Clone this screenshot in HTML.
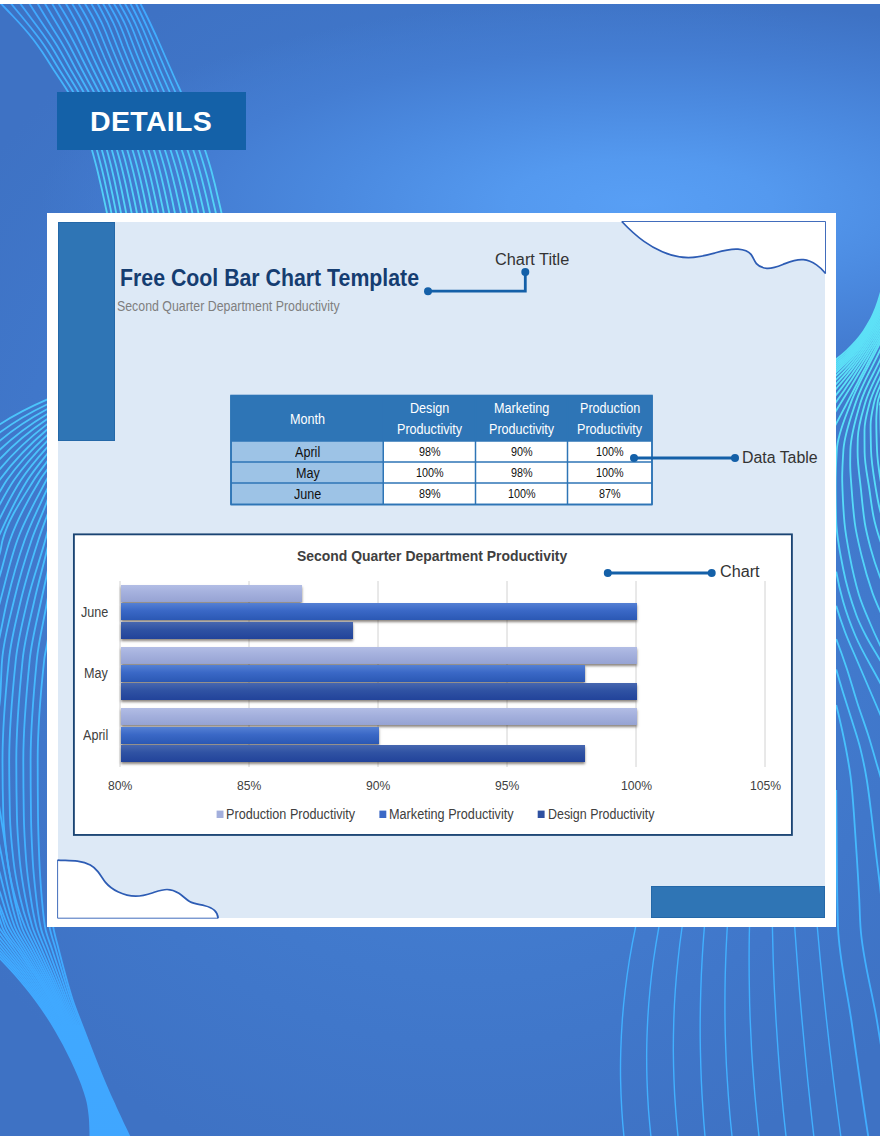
<!DOCTYPE html>
<html lang="en">
<head>
<meta charset="utf-8">
<title>Free Cool Bar Chart Template - Details</title>
<style>
html,body{margin:0;padding:0;}
body{width:880px;height:1140px;background:#fff;position:relative;overflow:hidden;font-family:"Liberation Sans",sans-serif;}
#bg{position:absolute;left:0;top:3.7px;width:880px;height:1132px;
  background:
    radial-gradient(ellipse 600px 205px at 640px 200px,#589ff5 0%,#5499ef 22%,#4b8ae0 50%,#447dd2 75%,rgba(63,116,199,0) 100%),
    radial-gradient(ellipse 620px 640px at 470px 560px,#4682d6 0%,#437dd0 45%,#4077ca 75%,#3e72c4 100%);
  background-color:#3e72c4;}
svg{position:absolute;left:0;top:0;overflow:hidden;}
#deco path{fill:none;}
.lt{stroke:url(#gTop);stroke-width:1.8;}
.ll{stroke:url(#gLeft);stroke-width:1.8;}
.lr{stroke:url(#gRight);stroke-width:1.8;}
.lb{stroke:#41b0ff;stroke-width:1.4;}
#details{position:absolute;left:57px;top:92px;width:189px;height:58px;background:#1461a8;}
#card{position:absolute;left:47px;top:213px;width:789px;height:714px;background:#fff;}
#panel{position:absolute;left:58px;top:221.6px;width:767.4px;height:696.6px;background:#dde9f6;}
#lbar{position:absolute;left:58px;top:221.6px;width:57.2px;height:219.2px;background:#2f75b5;box-shadow:inset 0 0 0 1px #2468a8;}
#rbar{position:absolute;left:651px;top:885.8px;width:174.4px;height:32.4px;background:#2f75b5;box-shadow:inset 0 0 0 1px #2468a8;}
.t{position:absolute;white-space:nowrap;transform-origin:0 0;line-height:1;display:block;}
.bar{position:absolute;left:120.5px;height:17px;box-shadow:0 1.5px 2.5px rgba(40,30,20,.55);}
.bp{background:linear-gradient(#b2bde5,#a4b0dd 45%,#96a3d3);}
.bm{background:linear-gradient(#5580d4,#3a68c6 45%,#2b58b4);}
.bd{background:linear-gradient(#4767b0,#2f52a3 45%,#22439a);}
</style>
</head>
<body>
<div id="bg"></div>
<svg id="deco" width="880" height="1140" viewBox="0 0 880 1140">
<defs>
<clipPath id="cp"><rect x="0" y="4" width="880" height="1132"/></clipPath>
<linearGradient id="gTop" gradientUnits="userSpaceOnUse" x1="0" y1="0" x2="0" y2="215">
<stop offset="0" stop-color="#3fa6ff"/><stop offset="0.45" stop-color="#45b8fc"/><stop offset="1" stop-color="#55d6f6"/></linearGradient>
<linearGradient id="gLeft" gradientUnits="userSpaceOnUse" x1="0" y1="390" x2="0" y2="1140">
<stop offset="0" stop-color="#4cc6fb"/><stop offset="0.5" stop-color="#43b6ff"/><stop offset="0.75" stop-color="#40aaff"/><stop offset="1" stop-color="#40a6ff"/></linearGradient>
<linearGradient id="gRight" gradientUnits="userSpaceOnUse" x1="0" y1="280" x2="0" y2="1140">
<stop offset="0" stop-color="#5fe2f6"/><stop offset="0.25" stop-color="#56dcf8"/><stop offset="0.5" stop-color="#48c4fc"/><stop offset="0.8" stop-color="#40b0ff"/><stop offset="1" stop-color="#40acff"/></linearGradient>
</defs>
<g clip-path="url(#cp)">
<g id="topband">
<path class="lt" d="M-4.4 -2.0 L1.3 4.0 L7.1 10.0 L12.8 16.0 L18.4 22.0 L23.8 28.0 L28.9 34.0 L33.7 40.0 L38.1 46.0 L42.3 52.0 L46.2 58.0 L50.0 64.0 L53.8 70.0 L57.8 76.0 L61.8 82.0 L65.7 88.0 L69.4 94.0 L72.8 100.0 L75.8 106.0 L78.7 112.0 L81.2 118.0 L83.6 124.0 L85.8 130.0 L87.8 136.0 L89.7 142.0 L91.4 148.0 L93.1 154.0 L94.7 160.0 L96.3 166.0 L97.8 172.0 L99.2 178.0 L100.6 184.0 L102.0 190.0 L103.3 196.0 L104.6 202.0 L105.9 208.0 L107.2 214.0 L108.5 220.0"/>
<path class="lt" d="M6.4 -2.0 L11.4 4.0 L16.3 10.0 L21.3 16.0 L26.2 22.0 L31.1 28.0 L35.8 34.0 L40.4 40.0 L44.6 46.0 L48.5 52.0 L52.2 58.0 L55.8 64.0 L59.5 70.0 L63.3 76.0 L67.1 82.0 L70.9 88.0 L74.4 94.0 L77.7 100.0 L80.7 106.0 L83.5 112.0 L86.1 118.0 L88.4 124.0 L90.6 130.0 L92.7 136.0 L94.6 142.0 L96.3 148.0 L98.0 154.0 L99.6 160.0 L101.1 166.0 L102.6 172.0 L104.0 178.0 L105.3 184.0 L106.6 190.0 L107.9 196.0 L109.2 202.0 L110.4 208.0 L111.6 214.0 L112.8 220.0"/>
<path class="lt" d="M16.1 -2.0 L20.5 4.0 L25.0 10.0 L29.4 16.0 L33.9 22.0 L38.4 28.0 L42.8 34.0 L47.0 40.0 L51.0 46.0 L54.7 52.0 L58.2 58.0 L61.7 64.0 L65.2 70.0 L68.8 76.0 L72.4 82.0 L76.1 88.0 L79.5 94.0 L82.7 100.0 L85.7 106.0 L88.4 112.0 L91.0 118.0 L93.3 124.0 L95.5 130.0 L97.6 136.0 L99.5 142.0 L101.3 148.0 L103.0 154.0 L104.6 160.0 L106.1 166.0 L107.5 172.0 L108.9 178.0 L110.2 184.0 L111.5 190.0 L112.8 196.0 L114.0 202.0 L115.2 208.0 L116.4 214.0 L117.6 220.0"/>
<path class="lt" d="M25.8 -2.0 L29.7 4.0 L33.5 10.0 L37.4 16.0 L41.4 22.0 L45.4 28.0 L49.5 34.0 L53.5 40.0 L57.3 46.0 L60.8 52.0 L64.2 58.0 L67.5 64.0 L70.8 70.0 L74.3 76.0 L77.8 82.0 L81.3 88.0 L84.6 94.0 L87.7 100.0 L90.6 106.0 L93.3 112.0 L95.9 118.0 L98.3 124.0 L100.5 130.0 L102.5 136.0 L104.5 142.0 L106.3 148.0 L108.0 154.0 L109.6 160.0 L111.1 166.0 L112.5 172.0 L113.9 178.0 L115.2 184.0 L116.4 190.0 L117.7 196.0 L118.8 202.0 L120.0 208.0 L121.2 214.0 L122.4 220.0"/>
<path class="lt" d="M34.4 -2.0 L37.9 4.0 L41.4 10.0 L45.0 16.0 L48.7 22.0 L52.4 28.0 L56.2 34.0 L60.0 40.0 L63.5 46.0 L66.9 52.0 L70.1 58.0 L73.2 64.0 L76.4 70.0 L79.8 76.0 L83.1 82.0 L86.5 88.0 L89.7 94.0 L92.8 100.0 L95.6 106.0 L98.3 112.0 L100.8 118.0 L103.2 124.0 L105.4 130.0 L107.5 136.0 L109.5 142.0 L111.3 148.0 L113.0 154.0 L114.6 160.0 L116.2 166.0 L117.6 172.0 L119.0 178.0 L120.3 184.0 L121.6 190.0 L122.8 196.0 L124.0 202.0 L125.2 208.0 L126.4 214.0 L127.6 220.0"/>
<path class="lt" d="M41.7 -2.0 L45.2 4.0 L48.7 10.0 L52.2 16.0 L55.8 22.0 L59.4 28.0 L62.9 34.0 L66.4 40.0 L69.7 46.0 L72.8 52.0 L75.9 58.0 L79.0 64.0 L82.1 70.0 L85.3 76.0 L88.5 82.0 L91.8 88.0 L94.9 94.0 L97.8 100.0 L100.7 106.0 L103.3 112.0 L105.8 118.0 L108.2 124.0 L110.4 130.0 L112.5 136.0 L114.5 142.0 L116.4 148.0 L118.1 154.0 L119.8 160.0 L121.3 166.0 L122.8 172.0 L124.2 178.0 L125.6 184.0 L126.9 190.0 L128.1 196.0 L129.4 202.0 L130.6 208.0 L131.8 214.0 L133.0 220.0"/>
<path class="lt" d="M48.9 -2.0 L52.4 4.0 L55.9 10.0 L59.3 16.0 L62.8 22.0 L66.1 28.0 L69.5 34.0 L72.7 40.0 L75.8 46.0 L78.8 52.0 L81.7 58.0 L84.7 64.0 L87.7 70.0 L90.8 76.0 L93.9 82.0 L97.0 88.0 L100.1 94.0 L103.0 100.0 L105.7 106.0 L108.4 112.0 L110.9 118.0 L113.2 124.0 L115.5 130.0 L117.6 136.0 L119.6 142.0 L121.5 148.0 L123.3 154.0 L125.0 160.0 L126.5 166.0 L128.0 172.0 L129.5 178.0 L130.8 184.0 L132.1 190.0 L133.4 196.0 L134.7 202.0 L135.9 208.0 L137.1 214.0 L138.3 220.0"/>
<path class="lt" d="M55.1 -2.0 L58.8 4.0 L62.5 10.0 L66.1 16.0 L69.6 22.0 L72.9 28.0 L76.0 34.0 L78.9 40.0 L81.8 46.0 L84.7 52.0 L87.5 58.0 L90.4 64.0 L93.3 70.0 L96.3 76.0 L99.3 82.0 L102.3 88.0 L105.3 94.0 L108.1 100.0 L110.8 106.0 L113.5 112.0 L115.9 118.0 L118.3 124.0 L120.6 130.0 L122.7 136.0 L124.8 142.0 L126.7 148.0 L128.5 154.0 L130.2 160.0 L131.8 166.0 L133.3 172.0 L134.7 178.0 L136.1 184.0 L137.5 190.0 L138.8 196.0 L140.0 202.0 L141.3 208.0 L142.5 214.0 L143.8 220.0"/>
<path class="lt" d="M62.7 -2.0 L66.1 4.0 L69.6 10.0 L72.9 16.0 L76.2 22.0 L79.3 28.0 L82.2 34.0 L85.1 40.0 L87.8 46.0 L90.6 52.0 L93.3 58.0 L96.1 64.0 L98.9 70.0 L101.8 76.0 L104.7 82.0 L107.7 88.0 L110.5 94.0 L113.3 100.0 L116.0 106.0 L118.6 112.0 L121.1 118.0 L123.5 124.0 L125.8 130.0 L127.9 136.0 L130.0 142.0 L131.9 148.0 L133.7 154.0 L135.4 160.0 L137.0 166.0 L138.5 172.0 L140.0 178.0 L141.4 184.0 L142.7 190.0 L144.0 196.0 L145.2 202.0 L146.5 208.0 L147.7 214.0 L148.9 220.0"/>
<path class="lt" d="M68.9 -2.0 L72.4 4.0 L76.0 10.0 L79.4 16.0 L82.7 22.0 L85.7 28.0 L88.5 34.0 L91.1 40.0 L93.7 46.0 L96.4 52.0 L99.0 58.0 L101.7 64.0 L104.5 70.0 L107.3 76.0 L110.2 82.0 L113.0 88.0 L115.8 94.0 L118.6 100.0 L121.2 106.0 L123.8 112.0 L126.3 118.0 L128.7 124.0 L131.0 130.0 L133.1 136.0 L135.2 142.0 L137.2 148.0 L139.0 154.0 L140.7 160.0 L142.3 166.0 L143.9 172.0 L145.3 178.0 L146.7 184.0 L148.1 190.0 L149.4 196.0 L150.6 202.0 L151.9 208.0 L153.1 214.0 L154.4 220.0"/>
<path class="lt" d="M75.3 -2.0 L78.8 4.0 L82.4 10.0 L85.8 16.0 L89.0 22.0 L91.9 28.0 L94.6 34.0 L97.1 40.0 L99.6 46.0 L102.2 52.0 L104.7 58.0 L107.4 64.0 L110.1 70.0 L112.8 76.0 L115.6 82.0 L118.4 88.0 L121.2 94.0 L123.9 100.0 L126.5 106.0 L129.0 112.0 L131.5 118.0 L133.9 124.0 L136.2 130.0 L138.4 136.0 L140.5 142.0 L142.5 148.0 L144.3 154.0 L146.1 160.0 L147.7 166.0 L149.2 172.0 L150.7 178.0 L152.1 184.0 L153.4 190.0 L154.7 196.0 L156.0 202.0 L157.3 208.0 L158.5 214.0 L159.8 220.0"/>
<path class="lt" d="M81.8 -2.0 L85.2 4.0 L88.7 10.0 L92.1 16.0 L95.2 22.0 L98.0 28.0 L100.6 34.0 L103.0 40.0 L105.4 46.0 L107.9 52.0 L110.4 58.0 L113.0 64.0 L115.6 70.0 L118.3 76.0 L121.1 82.0 L123.8 88.0 L126.5 94.0 L129.2 100.0 L131.8 106.0 L134.3 112.0 L136.8 118.0 L139.2 124.0 L141.5 130.0 L143.8 136.0 L145.9 142.0 L147.9 148.0 L149.7 154.0 L151.5 160.0 L153.1 166.0 L154.7 172.0 L156.1 178.0 L157.5 184.0 L158.9 190.0 L160.1 196.0 L161.4 202.0 L162.7 208.0 L163.9 214.0 L165.2 220.0"/>
<path class="lt" d="M88.2 -2.0 L91.5 4.0 L94.9 10.0 L98.2 16.0 L101.3 22.0 L104.0 28.0 L106.5 34.0 L108.8 40.0 L111.2 46.0 L113.6 52.0 L116.1 58.0 L118.6 64.0 L121.2 70.0 L123.9 76.0 L126.5 82.0 L129.2 88.0 L131.9 94.0 L134.5 100.0 L137.1 106.0 L139.7 112.0 L142.2 118.0 L144.6 124.0 L146.9 130.0 L149.1 136.0 L151.3 142.0 L153.3 148.0 L155.2 154.0 L156.9 160.0 L158.6 166.0 L160.1 172.0 L161.6 178.0 L163.0 184.0 L164.4 190.0 L165.7 196.0 L167.0 202.0 L168.2 208.0 L169.5 214.0 L170.8 220.0"/>
<path class="lt" d="M94.8 -2.0 L97.9 4.0 L101.1 10.0 L104.2 16.0 L107.2 22.0 L109.8 28.0 L112.2 34.0 L114.6 40.0 L116.9 46.0 L119.3 52.0 L121.7 58.0 L124.2 64.0 L126.8 70.0 L129.4 76.0 L132.0 82.0 L134.7 88.0 L137.3 94.0 L139.9 100.0 L142.5 106.0 L145.1 112.0 L147.6 118.0 L150.0 124.0 L152.3 130.0 L154.6 136.0 L156.7 142.0 L158.7 148.0 L160.6 154.0 L162.4 160.0 L164.1 166.0 L165.7 172.0 L167.2 178.0 L168.6 184.0 L170.0 190.0 L171.3 196.0 L172.6 202.0 L173.8 208.0 L175.1 214.0 L176.4 220.0"/>
<path class="lt" d="M100.0 -2.0 L103.3 4.0 L106.7 10.0 L109.9 16.0 L112.9 22.0 L115.6 28.0 L118.0 34.0 L120.3 40.0 L122.5 46.0 L124.9 52.0 L127.3 58.0 L129.8 64.0 L132.3 70.0 L134.9 76.0 L137.5 82.0 L140.2 88.0 L142.8 94.0 L145.4 100.0 L148.0 106.0 L150.5 112.0 L153.0 118.0 L155.4 124.0 L157.8 130.0 L160.0 136.0 L162.2 142.0 L164.2 148.0 L166.2 154.0 L168.0 160.0 L169.7 166.0 L171.3 172.0 L172.9 178.0 L174.3 184.0 L175.8 190.0 L177.1 196.0 L178.5 202.0 L179.8 208.0 L181.1 214.0 L182.4 220.0"/>
<path class="lt" d="M105.4 -2.0 L108.8 4.0 L112.2 10.0 L115.5 16.0 L118.5 22.0 L121.2 28.0 L123.6 34.0 L125.9 40.0 L128.1 46.0 L130.5 52.0 L132.9 58.0 L135.4 64.0 L137.9 70.0 L140.5 76.0 L143.1 82.0 L145.7 88.0 L148.3 94.0 L150.9 100.0 L153.4 106.0 L156.0 112.0 L158.5 118.0 L160.9 124.0 L163.2 130.0 L165.5 136.0 L167.7 142.0 L169.8 148.0 L171.8 154.0 L173.6 160.0 L175.4 166.0 L177.1 172.0 L178.7 178.0 L180.2 184.0 L181.7 190.0 L183.1 196.0 L184.5 202.0 L185.9 208.0 L187.2 214.0 L188.6 220.0"/>
<path class="lt" d="M110.8 -2.0 L114.2 4.0 L117.7 10.0 L121.0 16.0 L124.0 22.0 L126.7 28.0 L129.1 34.0 L131.4 40.0 L133.7 46.0 L136.0 52.0 L138.4 58.0 L140.9 64.0 L143.4 70.0 L146.0 76.0 L148.6 82.0 L151.2 88.0 L153.8 94.0 L156.4 100.0 L159.0 106.0 L161.5 112.0 L164.0 118.0 L166.5 124.0 L168.8 130.0 L171.1 136.0 L173.3 142.0 L175.4 148.0 L177.4 154.0 L179.3 160.0 L181.0 166.0 L182.6 172.0 L184.2 178.0 L185.7 184.0 L187.2 190.0 L188.6 196.0 L189.9 202.0 L191.3 208.0 L192.6 214.0 L194.0 220.0"/>
<path class="lt" d="M116.4 -2.0 L119.7 4.0 L123.1 10.0 L126.4 16.0 L129.4 22.0 L132.1 28.0 L134.5 34.0 L136.8 40.0 L139.2 46.0 L141.5 52.0 L144.0 58.0 L146.5 64.0 L149.0 70.0 L151.5 76.0 L154.1 82.0 L156.7 88.0 L159.3 94.0 L161.9 100.0 L164.5 106.0 L167.1 112.0 L169.6 118.0 L172.1 124.0 L174.5 130.0 L176.8 136.0 L179.0 142.0 L181.1 148.0 L183.1 154.0 L185.0 160.0 L186.7 166.0 L188.4 172.0 L190.0 178.0 L191.6 184.0 L193.0 190.0 L194.5 196.0 L195.9 202.0 L197.3 208.0 L198.6 214.0 L200.0 220.0"/>
<path class="lt" d="M122.0 -2.0 L125.2 4.0 L128.5 10.0 L131.7 16.0 L134.6 22.0 L137.3 28.0 L139.8 34.0 L142.2 40.0 L144.6 46.0 L147.0 52.0 L149.5 58.0 L152.0 64.0 L154.5 70.0 L157.1 76.0 L159.7 82.0 L162.3 88.0 L164.9 94.0 L167.5 100.0 L170.2 106.0 L172.7 112.0 L175.3 118.0 L177.7 124.0 L180.1 130.0 L182.5 136.0 L184.7 142.0 L186.8 148.0 L188.8 154.0 L190.7 160.0 L192.5 166.0 L194.2 172.0 L195.8 178.0 L197.3 184.0 L198.8 190.0 L200.2 196.0 L201.6 202.0 L203.0 208.0 L204.3 214.0 L205.7 220.0"/>
<path class="lt" d="M127.5 -2.0 L130.6 4.0 L133.8 10.0 L136.8 16.0 L139.7 22.0 L142.5 28.0 L145.0 34.0 L147.5 40.0 L150.0 46.0 L152.4 52.0 L154.9 58.0 L157.5 64.0 L160.0 70.0 L162.6 76.0 L165.3 82.0 L167.9 88.0 L170.6 94.0 L173.2 100.0 L175.8 106.0 L178.4 112.0 L181.0 118.0 L183.5 124.0 L185.9 130.0 L188.2 136.0 L190.5 142.0 L192.6 148.0 L194.6 154.0 L196.5 160.0 L198.3 166.0 L200.0 172.0 L201.6 178.0 L203.1 184.0 L204.6 190.0 L206.1 196.0 L207.5 202.0 L208.8 208.0 L210.2 214.0 L211.6 220.0"/>
<path class="lt" d="M133.3 -2.0 L136.2 4.0 L139.0 10.0 L141.9 16.0 L144.7 22.0 L147.5 28.0 L150.1 34.0 L152.7 40.0 L155.3 46.0 L157.8 52.0 L160.4 58.0 L163.0 64.0 L165.5 70.0 L168.2 76.0 L170.8 82.0 L173.5 88.0 L176.2 94.0 L178.9 100.0 L181.5 106.0 L184.2 112.0 L186.7 118.0 L189.2 124.0 L191.7 130.0 L194.0 136.0 L196.3 142.0 L198.4 148.0 L200.4 154.0 L202.3 160.0 L204.1 166.0 L205.8 172.0 L207.5 178.0 L209.0 184.0 L210.5 190.0 L211.9 196.0 L213.3 202.0 L214.7 208.0 L216.1 214.0 L217.5 220.0"/>
<path class="lt" d="M137.6 -2.0 L140.6 4.0 L143.7 10.0 L146.7 16.0 L149.6 22.0 L152.4 28.0 L155.2 34.0 L157.9 40.0 L160.6 46.0 L163.2 52.0 L165.8 58.0 L168.4 64.0 L171.1 70.0 L173.7 76.0 L176.4 82.0 L179.2 88.0 L181.9 94.0 L184.6 100.0 L187.3 106.0 L190.0 112.0 L192.6 118.0 L195.1 124.0 L197.6 130.0 L199.9 136.0 L202.2 142.0 L204.3 148.0 L206.3 154.0 L208.2 160.0 L210.0 166.0 L211.7 172.0 L213.2 178.0 L214.8 184.0 L216.2 190.0 L217.6 196.0 L219.0 202.0 L220.4 208.0 L221.7 214.0 L223.1 220.0"/>
</g>
<g id="leftfam">
<path d="M52.6 1025.0 L56.1 1031.0 L59.5 1037.0 L62.9 1043.0 L66.1 1049.0 L69.1 1055.0 L71.9 1061.0 L74.7 1067.0 L77.3 1073.0 L79.8 1079.0 L82.2 1085.0 L84.4 1091.0 L86.2 1097.0 L87.7 1103.0 L88.7 1109.0 L89.5 1115.0 L90.0 1121.0 L90.2 1127.0 L90.4 1133.0 L90.4 1139.0 L90.5 1145.0 L90.5 1151.0 L135.9 1151.0 L133.3 1145.0 L130.6 1139.0 L127.8 1133.0 L125.0 1127.0 L122.1 1121.0 L119.2 1115.0 L116.5 1109.0 L113.8 1103.0 L111.1 1097.0 L108.4 1091.0 L105.8 1085.0 L103.1 1079.0 L100.6 1073.0 L98.2 1067.0 L96.0 1061.0 L93.8 1055.0 L91.6 1049.0 L89.4 1043.0 L87.0 1037.0 L84.4 1031.0 L81.9 1025.0 Z" style="fill:url(#gLeft);stroke:none"/>
<path class="ll" d="M73.2 390.0 C64.2 392.8 55.4 396.0 46.9 399.7 C30.8 406.6 14.7 414.8 0.0 424.3 C-4.4 427.2 -11.4 430.2 -12.7 434.0 C-32.0 487.8 -34.1 585.9 -38.5 662.1 C-43.2 742.9 -48.0 836.8 -48.0 905.0 C-48.0 912.9 -36.2 919.7 -30.0 926.8 C-23.0 934.8 -15.4 942.2 -8.1 950.0 C-0.3 958.3 7.8 966.4 15.3 975.0 C22.3 983.1 29.3 991.4 35.6 1000.0 C42.7 1009.6 49.5 1019.7 55.5 1030.0 C61.3 1039.7 66.6 1049.8 71.5 1060.0 C75.3 1068.2 79.2 1076.5 82.2 1085.0 C84.5 1091.5 87.0 1098.2 88.1 1105.0 C89.0 1110.6 89.8 1116.3 90.0 1122.0 C90.2 1126.7 90.4 1131.3 90.4 1136.0 C90.5 1140.7 90.5 1145.3 90.5 1150.0"/>
<path class="ll" d="M72.9 394.0 C64.0 397.1 55.3 400.5 46.9 404.5 C30.6 412.2 14.5 421.7 0.0 432.4 C-4.2 435.5 -10.8 438.9 -12.1 442.9 C-31.2 498.6 -35.0 591.5 -38.1 666.2 C-41.3 745.5 -43.8 837.3 -43.8 905.0 C-43.8 912.9 -32.4 919.7 -26.4 926.8 C-19.6 934.8 -12.3 942.2 -5.2 950.0 C2.4 958.3 10.2 966.4 17.4 975.0 C24.3 983.1 31.0 991.4 37.2 1000.0 C44.2 1009.7 50.8 1019.7 56.8 1030.0 C62.4 1039.7 67.7 1049.8 72.5 1060.0 C76.4 1068.2 80.2 1076.5 83.2 1085.0 C85.5 1091.5 88.0 1098.2 89.2 1105.0 C90.2 1110.6 91.0 1116.3 91.4 1122.0 C91.7 1126.7 91.9 1131.3 92.1 1136.0 C92.2 1140.7 92.4 1145.3 92.4 1150.0"/>
<path class="ll" d="M72.4 397.7 C63.7 401.1 55.1 404.9 46.9 409.3 C30.5 418.1 14.3 428.7 0.0 440.6 C-4.1 444.0 -10.1 447.6 -11.5 451.7 C-30.3 508.8 -36.3 597.2 -37.6 670.3 C-38.9 748.3 -39.7 837.9 -39.7 905.0 C-39.7 912.9 -28.7 919.7 -22.8 926.8 C-16.3 934.8 -9.2 942.3 -2.3 950.0 C5.0 958.3 12.6 966.4 19.6 975.0 C26.2 983.1 32.8 991.4 38.8 1000.0 C45.6 1009.7 52.1 1019.7 58.0 1030.0 C63.6 1039.7 68.8 1049.8 73.5 1060.0 C77.4 1068.2 81.2 1076.5 84.2 1085.0 C86.6 1091.5 89.0 1098.2 90.4 1105.0 C91.5 1110.6 92.3 1116.3 92.8 1122.0 C93.2 1126.6 93.5 1131.3 93.7 1136.0 C94.0 1140.7 94.2 1145.3 94.4 1150.0"/>
<path class="ll" d="M71.8 401.4 C63.2 405.2 54.8 409.4 46.9 414.2 C30.3 424.2 14.1 436.3 0.0 449.6 C-3.8 453.2 -9.4 457.1 -10.8 461.4 C-29.3 519.6 -37.0 603.4 -37.0 674.8 C-37.0 751.2 -36.9 838.6 -35.5 905.0 C-35.3 912.8 -24.9 919.7 -19.3 926.8 C-12.9 934.7 -6.0 942.3 0.5 950.0 C7.6 958.3 14.9 966.5 21.7 975.0 C28.2 983.1 34.5 991.4 40.4 1000.0 C47.1 1009.7 53.4 1019.8 59.2 1030.0 C64.7 1039.8 69.9 1049.8 74.6 1060.0 C78.4 1068.2 82.2 1076.5 85.2 1085.0 C87.6 1091.5 90.1 1098.2 91.5 1105.0 C92.7 1110.6 93.6 1116.3 94.2 1122.0 C94.7 1126.6 95.1 1131.3 95.4 1136.0 C95.8 1140.7 96.1 1145.3 96.3 1150.0"/>
<path class="ll" d="M71.2 405.3 C62.8 409.5 54.5 414.0 46.9 419.2 C30.1 430.5 13.9 444.1 0.0 458.8 C-3.6 462.6 -8.7 466.7 -10.1 471.2 C-28.2 530.0 -36.5 609.7 -36.5 679.4 C-36.5 754.3 -35.7 839.4 -31.3 905.0 C-30.8 912.8 -21.1 919.7 -15.7 926.8 C-9.6 934.7 -2.9 942.3 3.4 950.0 C10.3 958.3 17.3 966.5 23.9 975.0 C30.2 983.1 36.3 991.5 42.0 1000.0 C48.5 1009.7 54.7 1019.8 60.4 1030.0 C65.9 1039.8 70.9 1049.8 75.6 1060.0 C79.4 1068.2 83.2 1076.5 86.3 1085.0 C88.6 1091.6 91.1 1098.2 92.7 1105.0 C93.9 1110.6 94.9 1116.3 95.6 1122.0 C96.2 1126.6 96.7 1131.3 97.1 1136.0 C97.5 1140.7 97.9 1145.3 98.2 1150.0"/>
<path class="ll" d="M70.4 409.2 C62.3 413.9 54.2 418.8 46.9 424.4 C30.0 437.3 13.7 452.6 0.0 468.9 C-3.4 472.9 -8.0 477.2 -9.4 481.8 C-27.1 540.8 -35.9 616.7 -35.9 684.5 C-35.9 757.7 -34.2 840.3 -27.2 905.0 C-26.3 912.8 -17.4 919.7 -12.1 926.8 C-6.3 934.7 0.2 942.3 6.3 950.0 C12.9 958.3 19.7 966.5 26.0 975.0 C32.1 983.2 38.1 991.5 43.6 1000.0 C50.0 1009.8 56.1 1019.8 61.7 1030.0 C67.0 1039.8 72.0 1049.9 76.7 1060.0 C80.4 1068.2 84.1 1076.5 87.3 1085.0 C89.7 1091.6 92.2 1098.2 93.8 1105.0 C95.1 1110.6 96.2 1116.3 97.0 1122.0 C97.7 1126.6 98.2 1131.3 98.8 1136.0 C99.3 1140.7 99.8 1145.3 100.2 1150.0"/>
<path class="ll" d="M69.6 413.5 C61.7 418.5 53.9 423.8 46.9 429.8 C29.8 444.3 13.5 461.4 0.0 479.4 C-3.2 483.6 -7.4 488.1 -8.7 492.8 C-25.9 551.5 -35.2 623.8 -35.2 689.7 C-35.2 761.2 -32.4 841.2 -23.0 905.0 C-21.9 912.7 -13.6 919.7 -8.5 926.8 C-2.9 934.7 3.3 942.3 9.2 950.0 C15.5 958.3 22.1 966.5 28.2 975.0 C34.1 983.2 39.8 991.5 45.2 1000.0 C51.4 1009.8 57.4 1019.8 62.9 1030.0 C68.2 1039.8 73.1 1049.9 77.7 1060.0 C81.4 1068.2 85.1 1076.5 88.3 1085.0 C90.7 1091.6 93.2 1098.2 94.9 1105.0 C96.3 1110.6 97.4 1116.3 98.4 1122.0 C99.2 1126.6 99.8 1131.3 100.4 1136.0 C101.0 1140.7 101.6 1145.3 102.1 1150.0"/>
<path class="ll" d="M68.7 417.8 C61.1 423.3 53.7 429.1 46.9 435.4 C32.4 448.9 18.3 463.9 6.9 480.0 C4.4 483.6 2.3 487.5 0.0 491.3 C-2.7 495.9 -6.6 500.3 -8.0 505.1 C-24.5 563.3 -34.5 631.9 -34.5 695.6 C-34.5 765.2 -30.3 842.4 -18.9 905.0 C-17.5 912.7 -9.8 919.7 -5.0 926.8 C0.4 934.7 6.4 942.3 12.1 950.0 C18.2 958.3 24.5 966.5 30.4 975.0 C36.0 983.2 41.6 991.5 46.8 1000.0 C52.8 1009.8 58.7 1019.8 64.1 1030.0 C69.3 1039.8 74.2 1049.9 78.7 1060.0 C82.5 1068.2 86.1 1076.5 89.3 1085.0 C91.8 1091.6 94.3 1098.2 96.1 1105.0 C97.6 1110.6 98.7 1116.3 99.8 1122.0 C100.7 1126.6 101.4 1131.3 102.1 1136.0 C102.8 1140.7 103.4 1145.3 104.0 1150.0"/>
<path class="ll" d="M67.6 422.5 C60.4 428.5 53.4 434.7 46.9 441.3 C35.1 453.3 23.6 466.2 14.1 480.0 C8.9 487.5 4.4 495.8 0.0 503.9 C-2.6 508.6 -6.0 513.2 -7.3 518.1 C-23.1 575.2 -33.8 640.5 -33.8 702.0 C-33.8 769.4 -27.9 843.7 -14.7 905.0 C-13.1 912.7 -6.0 919.7 -1.4 926.8 C3.8 934.7 9.5 942.3 14.9 950.0 C20.8 958.3 26.9 966.5 32.5 975.0 C38.0 983.2 43.3 991.5 48.4 1000.0 C54.3 1009.8 60.0 1019.8 65.3 1030.0 C70.4 1039.8 75.2 1049.9 79.8 1060.0 C83.5 1068.2 87.1 1076.6 90.3 1085.0 C92.8 1091.6 95.3 1098.2 97.2 1105.0 C98.8 1110.6 100.0 1116.3 101.2 1122.0 C102.2 1126.6 103.0 1131.3 103.8 1136.0 C104.6 1140.7 105.3 1145.3 106.0 1150.0"/>
<path class="ll" d="M66.5 427.6 C59.7 434.0 53.1 440.7 46.9 447.6 C37.7 457.9 28.5 468.6 21.0 480.0 C13.1 492.0 6.4 505.1 0.0 518.1 C-2.4 522.9 -5.3 527.6 -6.7 532.6 C-21.6 588.3 -32.9 650.3 -32.9 709.0 C-32.9 781.7 -19.1 862.0 2.2 926.8 C4.9 935.0 12.6 942.3 17.8 950.0 C23.4 958.3 29.2 966.5 34.7 975.0 C39.9 983.2 45.1 991.6 50.0 1000.0 C55.7 1009.9 61.4 1019.8 66.6 1030.0 C71.6 1039.8 76.3 1049.9 80.8 1060.0 C84.5 1068.3 88.1 1076.6 91.3 1085.0 C93.8 1091.6 96.4 1098.2 98.4 1105.0 C100.0 1110.6 101.3 1116.3 102.6 1122.0 C103.6 1126.6 104.5 1131.3 105.4 1136.0 C106.3 1140.7 107.1 1145.3 107.9 1150.0"/>
<path class="ll" d="M65.3 433.3 C58.9 440.1 52.8 447.2 46.9 454.4 C40.2 462.7 33.2 471.1 27.6 480.0 C17.0 496.8 8.2 515.4 0.0 533.7 C-2.2 538.6 -4.7 543.5 -6.0 548.5 C-20.0 602.3 -32.0 660.8 -32.0 716.9 C-32.0 787.0 -16.4 863.7 5.2 926.8 C8.0 935.0 15.2 942.3 20.2 950.0 C25.6 958.3 31.2 966.6 36.5 975.0 C41.6 983.2 46.5 991.6 51.3 1000.0 C56.9 1009.9 62.5 1019.9 67.6 1030.0 C72.5 1039.9 77.2 1049.9 81.7 1060.0 C85.3 1068.3 88.9 1076.6 92.2 1085.0 C94.7 1091.6 97.3 1098.2 99.3 1105.0 C101.0 1110.6 102.4 1116.3 103.8 1122.0 C104.9 1126.6 105.9 1131.3 106.8 1136.0 C107.8 1140.7 108.7 1145.3 109.5 1150.0"/>
<path class="ll" d="M63.8 439.5 C58.1 446.8 52.4 454.3 46.9 461.8 C42.5 467.8 37.8 473.7 33.9 480.0 C22.1 499.0 8.4 518.8 2.6 540.0 C1.5 544.0 1.1 548.5 0.0 552.6 C-1.3 557.7 -4.1 562.6 -5.4 567.7 C-18.4 619.9 -31.2 675.4 -31.2 729.3 C-31.2 783.3 -20.4 840.2 -6.6 891.4 C-5.3 896.4 -2.1 901.1 0.0 906.0 C2.9 912.9 5.1 920.2 8.3 926.8 C12.2 934.9 17.9 942.3 22.7 950.0 C27.9 958.3 33.3 966.6 38.3 975.0 C43.3 983.2 48.0 991.6 52.7 1000.0 C58.2 1009.9 63.6 1019.9 68.6 1030.0 C73.5 1039.9 78.1 1049.9 82.6 1060.0 C86.2 1068.3 89.8 1076.6 93.0 1085.0 C95.6 1091.6 98.2 1098.2 100.3 1105.0 C102.1 1110.6 103.5 1116.3 105.0 1122.0 C106.2 1126.6 107.2 1131.3 108.3 1136.0 C109.3 1140.7 110.3 1145.3 111.2 1150.0"/>
<path class="ll" d="M62.3 446.6 C57.3 454.5 52.2 462.3 46.9 470.0 C44.6 473.4 42.0 476.6 39.9 480.0 C28.4 498.9 17.4 519.2 10.0 540.0 C6.0 551.3 3.5 563.4 0.0 575.0 C-1.5 580.1 -3.5 585.1 -4.7 590.3 C-15.9 637.2 -29.1 685.9 -29.1 733.8 C-29.1 781.7 -16.9 830.9 -5.3 877.5 C-4.0 882.6 -1.7 887.6 0.0 892.6 C3.9 904.0 6.7 916.0 11.5 926.8 C15.1 934.9 20.7 942.3 25.3 950.0 C30.3 958.3 35.4 966.6 40.3 975.0 C45.0 983.3 49.6 991.6 54.1 1000.0 C59.5 1009.9 64.8 1019.9 69.7 1030.0 C74.6 1039.9 79.1 1049.9 83.5 1060.0 C87.1 1068.3 90.7 1076.6 94.0 1085.0 C96.5 1091.6 99.2 1098.3 101.3 1105.0 C103.1 1110.6 104.7 1116.3 106.2 1122.0 C107.5 1126.6 108.7 1131.3 109.8 1136.0 C110.9 1140.7 111.9 1145.3 112.9 1150.0"/>
<path class="ll" d="M60.6 454.8 C55.9 462.8 51.2 471.0 46.9 479.2 C36.4 499.1 24.9 519.0 17.4 540.0 C10.2 560.0 5.6 581.3 0.0 602.0 C-1.4 607.1 -2.9 612.3 -4.1 617.5 C-13.1 657.2 -26.3 697.8 -26.3 738.0 C-26.3 778.2 -13.1 818.8 -4.0 858.5 C-2.9 863.7 -1.4 868.9 0.0 874.0 C4.7 891.6 8.2 910.2 14.8 926.8 C18.0 934.9 23.6 942.3 28.0 950.0 C32.7 958.3 37.6 966.6 42.3 975.0 C46.8 983.3 51.2 991.6 55.6 1000.0 C60.8 1009.9 66.0 1019.9 70.9 1030.0 C75.6 1039.9 80.1 1049.9 84.5 1060.0 C88.1 1068.3 91.6 1076.6 94.9 1085.0 C97.5 1091.6 100.1 1098.3 102.4 1105.0 C104.3 1110.6 105.9 1116.3 107.5 1122.0 C108.9 1126.6 110.1 1131.3 111.3 1136.0 C112.5 1140.7 113.6 1145.3 114.7 1150.0"/>
<path class="ll" d="M58.9 464.4 C54.8 472.8 50.8 481.2 46.9 489.7 C39.3 506.3 30.8 522.8 24.7 540.0 C17.8 559.5 12.1 579.8 7.3 600.0 C4.5 611.6 2.5 623.4 0.0 635.0 C-1.1 640.2 -2.3 645.4 -3.5 650.6 C-10.1 680.9 -22.8 711.2 -22.8 741.5 C-22.8 771.8 -9.4 802.0 -3.2 832.3 C-2.1 837.5 -1.1 842.8 0.0 848.0 C5.6 874.4 9.4 902.1 18.2 926.8 C21.1 934.9 26.5 942.3 30.7 950.0 C35.2 958.3 39.9 966.6 44.3 975.0 C48.7 983.3 52.9 991.6 57.1 1000.0 C62.1 1010.0 67.3 1019.9 72.0 1030.0 C76.7 1039.9 81.1 1049.9 85.4 1060.0 C89.0 1068.3 92.5 1076.6 95.8 1085.0 C98.5 1091.6 101.2 1098.3 103.5 1105.0 C105.4 1110.6 107.1 1116.3 108.9 1122.0 C110.3 1126.6 111.6 1131.3 112.9 1136.0 C114.2 1140.7 115.4 1145.3 116.6 1150.0"/>
<path class="ll" d="M56.1 475.4 C53.2 484.2 50.1 493.1 46.9 501.8 C42.1 514.7 36.0 527.1 31.6 540.0 C24.9 559.6 18.9 579.8 14.1 600.0 C9.4 619.8 3.7 639.8 2.1 660.0 C1.0 673.2 1.1 686.8 0.0 700.0 C-0.5 705.3 -1.5 710.6 -2.6 715.8 C-5.5 729.5 -16.7 742.5 -16.7 755.8 C-16.7 769.1 -5.4 782.1 -2.5 795.8 C-1.5 801.0 -0.9 806.3 0.0 811.6 C6.6 850.1 10.3 890.7 21.6 926.8 C24.1 934.8 29.5 942.3 33.4 950.0 C37.7 958.3 42.1 966.6 46.4 975.0 C50.5 983.3 54.5 991.7 58.6 1000.0 C63.5 1010.0 68.5 1019.9 73.2 1030.0 C77.8 1039.9 82.1 1050.0 86.4 1060.0 C90.0 1068.3 93.5 1076.6 96.8 1085.0 C99.5 1091.6 102.2 1098.3 104.6 1105.0 C106.6 1110.6 108.4 1116.3 110.2 1122.0 C111.7 1126.7 113.1 1131.3 114.5 1136.0 C115.8 1140.7 117.2 1145.3 118.4 1150.0"/>
<path class="ll" d="M57.0 489.9 C53.5 498.5 50.1 507.2 46.9 516.0 C44.0 524.0 41.0 531.9 38.4 540.0 C32.0 559.8 25.7 579.8 20.9 600.0 C16.2 619.8 10.9 639.8 8.9 660.0 C5.5 693.0 2.5 726.6 2.5 760.0 C2.5 778.3 2.8 796.7 3.3 815.0 C3.7 830.0 5.5 845.1 7.3 860.0 C8.9 872.4 11.8 884.9 15.0 897.0 C17.6 907.1 21.1 917.1 25.0 926.8 C28.2 934.7 32.4 942.3 36.2 950.0 C40.2 958.3 44.4 966.6 48.4 975.0 C52.4 983.3 56.2 991.7 60.1 1000.0 C64.9 1010.0 69.8 1019.9 74.4 1030.0 C78.9 1039.9 83.2 1050.0 87.4 1060.0 C90.9 1068.3 94.4 1076.6 97.8 1085.0 C100.5 1091.6 103.2 1098.3 105.7 1105.0 C107.7 1110.6 109.6 1116.3 111.5 1122.0 C113.1 1126.7 114.6 1131.3 116.1 1136.0 C117.5 1140.6 118.9 1145.3 120.2 1150.0"/>
<path class="ll" d="M54.6 507.1 C51.9 516.0 49.4 525.0 46.9 534.0 C46.4 536.0 45.9 538.0 45.3 540.0 C39.8 560.1 32.5 579.8 27.7 600.0 C23.0 619.8 17.9 639.8 15.8 660.0 C12.4 693.0 9.2 726.6 9.2 760.0 C9.2 778.3 9.5 796.7 9.9 815.0 C10.2 830.0 11.7 845.1 13.4 860.0 C14.7 872.4 17.2 884.8 19.9 897.0 C22.2 907.1 25.1 917.1 28.6 926.8 C31.4 934.7 35.5 942.3 39.1 950.0 C42.9 958.4 46.8 966.6 50.6 975.0 C54.4 983.3 58.0 991.7 61.7 1000.0 C66.3 1010.0 71.1 1019.9 75.6 1030.0 C80.0 1039.9 84.2 1050.0 88.5 1060.0 C92.0 1068.3 95.4 1076.6 98.8 1085.0 C101.5 1091.7 104.3 1098.3 106.8 1105.0 C108.9 1110.6 110.9 1116.3 112.9 1122.0 C114.6 1126.7 116.2 1131.3 117.7 1136.0 C119.3 1140.6 120.8 1145.3 122.2 1150.0"/>
<path class="ll" d="M53.4 523.3 C51.3 532.4 49.1 541.4 46.9 550.5 C42.9 567.0 38.2 583.4 34.5 600.0 C30.1 619.9 24.6 639.8 22.6 660.0 C19.3 693.0 16.3 726.6 16.3 760.0 C16.3 778.3 16.5 796.7 16.9 815.0 C17.1 830.0 18.4 845.1 19.7 860.0 C20.9 872.4 22.9 884.8 25.2 897.0 C27.0 907.0 29.3 917.1 32.3 926.8 C34.8 934.7 38.7 942.3 42.0 950.0 C45.6 958.4 49.2 966.7 52.8 975.0 C56.4 983.3 59.8 991.7 63.4 1000.0 C67.8 1010.0 72.5 1020.0 76.9 1030.0 C81.2 1040.0 85.4 1050.0 89.5 1060.0 C93.0 1068.3 96.4 1076.7 99.8 1085.0 C102.6 1091.7 105.4 1098.3 108.0 1105.0 C110.2 1110.6 112.3 1116.3 114.4 1122.0 C116.1 1126.7 117.8 1131.3 119.5 1136.0 C121.1 1140.6 122.7 1145.3 124.2 1150.0"/>
<path class="ll" d="M52.6 547.3 C50.8 556.4 48.9 565.6 46.9 574.7 C45.1 583.1 43.1 591.5 41.3 600.0 C37.1 619.9 31.7 639.9 29.7 660.0 C26.4 693.0 23.3 726.6 23.3 760.0 C23.3 778.3 23.5 796.7 23.8 815.0 C24.0 830.0 25.0 845.0 26.1 860.0 C27.0 872.4 28.7 884.7 30.6 897.0 C32.1 907.0 33.8 917.1 36.4 926.8 C38.5 934.7 42.3 942.3 45.3 950.0 C48.6 958.4 52.0 966.7 55.3 975.0 C58.6 983.3 61.8 991.7 65.2 1000.0 C69.4 1010.1 74.0 1020.0 78.3 1030.0 C82.5 1040.0 86.6 1050.0 90.7 1060.0 C94.2 1068.3 97.6 1076.7 101.0 1085.0 C103.8 1091.7 106.6 1098.3 109.3 1105.0 C111.6 1110.6 113.8 1116.3 116.0 1122.0 C117.8 1126.7 119.6 1131.3 121.4 1136.0 C123.1 1140.6 124.8 1145.3 126.4 1150.0"/>
<path class="ll" d="M52.0 575.5 C50.3 584.6 48.6 593.8 46.9 603.0 C43.5 622.0 38.6 640.9 36.8 660.0 C33.6 693.1 30.6 726.6 30.6 760.0 C30.6 778.3 30.7 796.7 31.0 815.0 C31.1 830.0 31.9 845.0 32.7 860.0 C33.4 872.4 34.7 884.7 36.1 897.0 C37.2 907.0 38.4 917.1 40.5 926.8 C42.2 934.7 45.9 942.3 48.6 950.0 C51.6 958.4 54.7 966.7 57.8 975.0 C60.8 983.3 63.8 991.7 67.0 1000.0 C71.0 1010.1 75.5 1020.0 79.7 1030.0 C83.8 1040.0 87.8 1050.0 91.9 1060.0 C95.3 1068.3 98.7 1076.7 102.2 1085.0 C104.9 1091.7 107.8 1098.3 110.6 1105.0 C113.0 1110.7 115.3 1116.3 117.6 1122.0 C119.5 1126.7 121.4 1131.3 123.3 1136.0 C125.1 1140.6 126.9 1145.3 128.6 1150.0"/>
<path class="ll" d="M51.7 617.4 C50.1 626.6 48.5 635.8 46.9 645.0 C46.0 650.0 44.7 655.0 44.2 660.0 C40.6 693.0 37.7 726.6 37.7 760.0 C37.7 778.3 37.8 796.7 38.0 815.0 C38.1 830.0 38.7 845.0 39.3 860.0 C39.8 872.3 40.7 884.7 41.7 897.0 C42.6 907.0 43.4 917.1 45.0 926.8 C46.3 934.7 49.8 942.3 52.2 950.0 C54.9 958.4 57.7 966.7 60.5 975.0 C63.3 983.4 66.0 991.7 69.0 1000.0 C72.8 1010.1 77.2 1020.0 81.2 1030.0 C85.2 1040.0 89.2 1050.0 93.2 1060.0 C96.6 1068.3 100.0 1076.7 103.4 1085.0 C106.2 1091.7 109.2 1098.3 112.0 1105.0 C114.5 1110.7 116.9 1116.3 119.3 1122.0 C121.4 1126.7 123.4 1131.3 125.4 1136.0 C127.3 1140.6 129.2 1145.3 131.1 1150.0"/>
<path class="ll" d="M47.9 916.0 C48.3 919.6 48.8 923.2 49.5 926.8 C51.0 934.6 53.7 942.3 55.9 950.0 C58.2 958.4 60.7 966.7 63.2 975.0 C65.7 983.4 68.2 991.8 71.1 1000.0 C74.6 1010.1 78.8 1020.0 82.7 1030.0 C86.6 1040.0 90.5 1050.0 94.5 1060.0 C97.9 1068.4 101.2 1076.7 104.7 1085.0 C107.5 1091.7 110.5 1098.3 113.5 1105.0 C116.0 1110.7 118.5 1116.3 121.1 1122.0 C123.2 1126.7 125.4 1131.3 127.5 1136.0 C129.6 1140.6 131.6 1145.3 133.5 1150.0"/>
<path class="ll" d="M51.6 916.0 C52.0 919.6 52.6 923.2 53.2 926.8 C54.6 934.6 56.9 942.3 58.8 950.0 C61.0 958.4 63.1 966.7 65.4 975.0 C67.7 983.4 70.0 991.8 72.7 1000.0 C76.0 1010.1 80.2 1020.0 84.0 1030.0 C87.8 1040.0 91.6 1050.0 95.6 1060.0 C98.9 1068.4 102.2 1076.7 105.8 1085.0 C108.6 1091.7 111.6 1098.4 114.7 1105.0 C117.2 1110.7 119.9 1116.3 122.5 1122.0 C124.7 1126.7 127.1 1131.3 129.2 1136.0 C131.4 1140.6 133.5 1145.3 135.5 1150.0"/>
</g>
<g id="rightfam">
<path class="lr" d="M883.7 281.5 C882.4 286.0 881.3 290.5 880.0 295.0 C878.8 299.3 877.4 303.6 875.8 307.8 C874.2 311.9 872.4 315.9 870.4 319.8 C868.3 323.6 866.1 327.3 863.7 330.9 C861.2 334.5 858.6 337.9 855.8 341.2 C852.9 344.5 849.8 347.7 846.6 350.6 C843.3 353.6 839.8 356.5 836.2 359.2 C830.4 363.7 824.3 367.9 818.5 372.3"/>
<path class="lr" d="M884.0 284.8 C882.7 289.2 881.4 293.7 880.0 298.2 C878.7 302.4 877.2 306.6 875.6 310.7 C873.9 314.7 872.1 318.7 870.0 322.5 C867.9 326.2 865.7 329.9 863.3 333.4 C860.8 336.9 858.2 340.3 855.4 343.6 C852.5 346.9 849.5 350.0 846.4 352.9 C843.1 355.9 839.7 358.8 836.2 361.5 C830.4 366.0 824.4 370.3 818.7 374.8"/>
<path class="lr" d="M884.4 288.1 C882.9 292.5 881.5 297.0 880.0 301.4 C878.6 305.5 877.1 309.6 875.3 313.6 C873.6 317.5 871.7 321.4 869.6 325.1 C867.5 328.8 865.3 332.4 862.8 335.8 C860.4 339.3 857.8 342.6 855.0 345.8 C852.2 349.1 849.2 352.2 846.1 355.1 C843.0 358.1 839.6 360.9 836.2 363.6 C830.5 368.2 824.5 372.5 818.8 377.1"/>
<path class="lr" d="M884.8 291.4 C883.2 295.8 881.6 300.2 880.0 304.6 C878.5 308.6 876.9 312.6 875.1 316.5 C873.3 320.3 871.4 324.0 869.2 327.7 C867.1 331.3 864.8 334.8 862.4 338.2 C860.0 341.6 857.4 344.9 854.6 348.0 C851.9 351.2 849.0 354.3 845.9 357.2 C842.8 360.1 839.5 362.9 836.2 365.6 C830.5 370.2 824.6 374.7 819.0 379.3"/>
<path class="lr" d="M885.2 294.8 C883.4 299.1 881.8 303.5 880.0 307.8 C878.4 311.7 876.7 315.6 874.9 319.3 C873.0 323.1 871.0 326.7 868.9 330.3 C866.7 333.8 864.4 337.2 862.0 340.5 C859.6 343.9 857.0 347.1 854.3 350.2 C851.5 353.3 848.7 356.3 845.7 359.2 C842.6 362.1 839.4 364.9 836.2 367.6 C830.6 372.3 824.7 376.8 819.2 381.5"/>
<path class="lr" d="M885.6 298.2 C883.7 302.4 881.9 306.7 880.0 311.0 C878.3 314.8 876.6 318.5 874.6 322.2 C872.7 325.9 870.7 329.4 868.5 332.9 C866.3 336.3 864.0 339.7 861.6 342.9 C859.1 346.2 856.6 349.4 853.9 352.4 C851.2 355.5 848.4 358.5 845.4 361.4 C842.5 364.2 839.4 367.0 836.2 369.7 C830.6 374.5 824.9 379.0 819.3 383.8"/>
<path class="lr" d="M885.9 301.5 C884.0 305.7 882.0 310.0 880.0 314.2 C878.2 317.9 876.4 321.5 874.4 325.1 C872.4 328.7 870.3 332.1 868.1 335.5 C865.9 338.9 863.6 342.2 861.2 345.4 C858.7 348.6 856.2 351.8 853.5 354.8 C850.9 357.9 848.1 360.8 845.2 363.7 C842.3 366.5 839.3 369.3 836.2 372.0 C830.7 376.8 825.0 381.5 819.6 386.4"/>
<path class="lr" d="M886.3 304.9 C884.2 309.0 882.1 313.2 880.0 317.4 C878.1 321.0 876.2 324.7 874.2 328.2 C872.2 331.7 870.0 335.2 867.8 338.5 C865.6 341.9 863.2 345.2 860.8 348.4 C858.4 351.7 855.8 354.8 853.2 357.9 C850.6 361.0 847.8 364.0 845.0 366.9 C842.1 369.8 839.2 372.6 836.2 375.4 C830.8 380.4 825.3 385.2 820.0 390.2"/>
<path class="lr" d="M886.5 308.2 C884.3 312.3 882.2 316.5 880.0 320.6 C878.1 324.2 876.1 327.8 874.0 331.4 C871.9 334.9 869.7 338.3 867.5 341.7 C865.2 345.1 862.9 348.5 860.4 351.7 C858.0 355.0 855.5 358.2 852.9 361.3 C850.3 364.5 847.6 367.6 844.8 370.6 C842.0 373.6 839.1 376.5 836.2 379.4 C831.0 384.6 825.7 389.6 820.5 394.8"/>
<path class="lr" d="M886.7 311.5 C884.5 315.6 882.3 319.7 880.0 323.8 C878.0 327.4 875.9 331.0 873.8 334.6 C871.6 338.1 869.4 341.6 867.1 345.1 C864.8 348.5 862.5 351.9 860.0 355.2 C857.6 358.6 855.1 361.8 852.5 365.1 C850.0 368.3 847.3 371.5 844.6 374.6 C841.8 377.7 839.0 380.8 836.2 383.8 C831.2 389.1 826.1 394.4 821.0 399.8"/>
<path class="lr" d="M836.2 790.0 C836.2 820.0 836.6 850.0 837.0 880.0 C837.2 895.7 837.5 911.4 838.0 927.0 C839.1 958.2 846.8 989.0 851.3 1020.0 C856.9 1058.7 862.1 1097.4 868.2 1136.0 C868.9 1140.7 869.7 1145.3 870.5 1150.0"/>
<path class="lr" d="M886.9 314.8 C884.6 318.9 882.3 323.0 880.0 327.0 C877.9 330.7 875.8 334.3 873.6 337.9 C871.4 341.5 869.1 345.0 866.8 348.5 C864.5 352.0 862.1 355.5 859.7 358.9 C857.2 362.3 854.7 365.7 852.2 369.1 C849.6 372.4 847.0 375.7 844.4 379.0 C841.7 382.2 839.0 385.4 836.2 388.6 C831.4 394.1 826.5 399.6 821.7 405.1"/>
<path class="lr" d="M836.2 705.0 C838.2 712.9 840.1 720.8 841.8 728.7 C843.7 737.4 845.6 746.2 847.1 755.0 C848.6 763.3 850.1 771.6 851.0 780.0 C852.3 791.1 853.1 802.3 853.9 813.5 C855.0 828.0 855.9 842.5 856.8 857.0 C857.7 871.3 858.6 885.7 859.3 900.0 C859.7 909.0 859.9 918.1 860.5 927.0 C862.5 958.3 871.6 989.0 876.8 1020.0 C883.2 1058.6 889.3 1097.3 895.0 1136.0"/>
<path class="lr" d="M887.0 318.1 C884.7 322.1 882.3 326.2 880.0 330.2 C877.8 334.0 875.6 337.7 873.4 341.4 C871.1 345.1 868.8 348.8 866.5 352.4 C864.1 356.1 861.7 359.7 859.3 363.3 C856.9 366.8 854.4 370.4 851.9 373.9 C849.3 377.4 846.8 380.9 844.2 384.4 C841.5 387.9 838.9 391.3 836.2 394.7 C831.7 400.5 827.1 406.2 822.5 411.9"/>
<path class="lr" d="M836.2 669.5 C838.5 677.4 840.8 685.2 843.2 693.0 C846.2 702.7 849.4 712.3 852.4 722.0 C855.1 730.8 858.1 739.5 860.3 748.4 C862.9 758.8 865.1 769.4 866.8 780.0 C868.6 791.1 869.9 802.3 871.3 813.5 C873.1 828.0 874.6 842.5 876.4 857.0 C877.6 866.7 878.9 876.3 880.0 886.0 C881.5 899.6 882.9 913.3 884.0 927.0"/>
<path class="lr" d="M887.0 321.3 C884.7 325.3 882.3 329.4 880.0 333.4 C877.7 337.3 875.5 341.2 873.2 345.1 C870.8 349.0 868.5 352.8 866.1 356.7 C863.7 360.5 861.3 364.3 858.9 368.1 C856.5 371.9 854.0 375.7 851.5 379.5 C849.0 383.2 846.5 387.0 844.0 390.7 C841.4 394.4 838.8 398.1 836.2 401.8 C832.0 407.8 827.7 413.8 823.5 419.7"/>
<path class="lr" d="M836.2 639.0 C840.1 649.1 843.7 659.3 847.1 669.5 C850.8 680.8 853.9 692.4 857.6 703.7 C861.0 714.2 864.9 724.5 868.2 735.0 C871.0 743.8 873.4 752.7 876.0 761.6 C877.3 766.1 878.8 770.5 880.0 775.0 C883.7 788.2 887.1 801.5 890.0 815.0"/>
<path class="lr" d="M886.9 324.4 C884.6 328.5 882.3 332.5 880.0 336.6 C877.7 340.8 875.3 344.9 872.9 349.1 C870.6 353.2 868.2 357.3 865.8 361.5 C863.4 365.6 860.9 369.7 858.5 373.8 C856.1 377.9 853.6 382.0 851.2 386.1 C848.7 390.2 846.2 394.3 843.7 398.3 C841.2 402.4 838.7 406.4 836.2 410.5 C832.3 416.7 828.4 422.9 824.6 429.2"/>
<path class="lr" d="M836.2 605.8 C838.8 614.7 841.8 623.4 845.0 632.0 C848.3 640.8 852.3 649.3 856.0 658.0 C860.0 667.3 864.0 676.7 868.0 686.0 C872.0 695.3 876.0 704.6 880.0 714.0 C885.1 726.0 890.1 738.0 895.0 750.0"/>
<path class="lr" d="M886.5 327.4 C884.3 331.5 882.2 335.7 880.0 339.8 C877.6 344.5 875.1 349.1 872.7 353.8 C870.3 358.4 867.8 363.1 865.4 367.8 C863.0 372.4 860.5 377.1 858.1 381.8 C855.7 386.4 853.2 391.1 850.8 395.7 C848.4 400.4 845.9 405.1 843.5 409.7 C841.1 414.4 838.6 419.0 836.2 423.7 C832.8 430.2 829.4 436.7 826.0 443.2"/>
<path class="lr" d="M836.2 571.6 C838.0 581.8 840.4 591.9 843.2 601.8 C846.5 613.4 850.8 624.9 855.5 636.0 C862.3 652.0 871.9 667.0 880.0 682.6 C885.1 692.4 890.0 702.2 895.0 712.0"/>
<path class="lr" d="M888.0 326.0 C885.4 331.7 882.7 337.3 880.0 343.0 C870.5 362.9 858.5 382.1 850.9 402.6 C845.3 417.9 837.7 433.9 836.8 450.0 C836.1 461.8 835.6 474.0 835.6 486.0 C835.6 497.9 835.9 509.8 836.2 521.6 C836.7 537.5 840.2 553.4 843.2 569.0 C846.2 584.5 850.9 600.2 856.3 615.0 C858.9 622.2 862.5 629.2 866.0 636.0 C870.2 644.2 875.4 652.0 880.0 660.0 C885.0 668.7 890.0 677.3 895.0 686.0"/>
<path class="lr" d="M888.0 333.5 C885.3 339.2 882.7 344.8 880.0 350.5 C871.9 367.9 861.7 384.6 855.7 402.6 C850.6 417.9 844.5 433.9 843.4 450.0 C842.8 459.2 842.2 468.7 842.2 478.0 C842.2 482.0 842.4 486.0 842.5 490.0 C842.9 501.0 843.5 512.1 844.5 523.0 C845.5 534.0 847.6 544.9 849.7 555.8 C852.2 569.0 855.2 582.2 859.0 595.0 C861.9 604.5 866.1 613.8 870.0 623.0 C873.1 630.4 876.5 637.8 880.0 645.0 C884.7 654.8 889.7 664.5 895.0 674.0"/>
<path class="lr" d="M888.0 343.0 C885.3 348.7 882.6 354.3 880.0 360.0 C873.4 374.2 864.8 387.9 860.5 402.6 C856.0 417.8 850.8 434.0 850.4 450.0 C850.3 454.6 850.2 459.3 850.2 464.0 C850.2 472.7 851.1 481.3 851.7 490.0 C852.5 501.0 853.4 512.1 854.8 523.0 C856.2 534.0 859.0 545.0 861.6 555.8 C864.6 568.2 868.2 580.6 872.4 592.6 C874.6 598.8 877.3 604.9 880.0 611.0 C884.6 621.5 889.6 631.8 895.0 642.0"/>
<path class="lr" d="M888.0 351.5 C885.3 357.1 882.6 362.8 880.0 368.5 C874.9 379.8 868.7 390.9 865.3 402.6 C862.0 414.0 858.1 426.1 857.8 438.0 C857.7 442.6 857.6 447.3 857.6 452.0 C857.6 464.7 859.7 477.4 861.0 490.0 C862.1 501.0 863.1 512.1 864.8 523.0 C866.2 531.7 868.5 540.4 870.8 549.0 C873.4 558.5 876.5 567.9 880.0 577.0 C884.3 588.2 889.3 599.3 895.0 610.0"/>
<path class="lr" d="M888.0 360.5 C885.2 366.1 882.5 371.8 880.0 377.5 C876.4 385.8 872.0 394.0 869.7 402.6 C867.4 411.5 864.5 420.8 864.5 430.0 C864.5 437.3 864.5 444.7 864.6 452.0 C864.7 464.7 867.7 477.4 869.5 490.0 C870.7 498.7 871.7 507.4 873.4 516.0 C875.0 524.1 877.4 532.2 880.0 540.0 C884.0 552.0 889.0 563.7 895.0 575.0"/>
<path class="lr" d="M888.0 369.0 C885.0 374.5 882.3 380.2 880.0 386.0 C877.8 391.4 875.4 396.9 874.1 402.6 C872.5 409.9 870.6 417.5 870.6 425.0 C870.6 433.3 870.8 441.7 871.0 450.0 C871.4 463.4 873.9 476.8 876.0 490.0 C877.1 496.7 878.3 503.5 880.0 510.0 C883.5 523.7 888.5 537.1 895.0 550.0"/>
<path class="lr" d="M888.0 377.0 C884.7 382.4 882.0 388.1 880.0 394.0 C879.0 396.8 878.0 399.7 877.6 402.6 C876.9 408.3 876.3 414.2 876.3 420.0 C876.3 430.0 876.6 440.0 877.0 450.0 C877.4 460.0 878.9 470.2 880.5 480.0 C883.1 495.3 888.3 510.4 895.0 525.0"/>
<path class="lr" d="M888.0 387.0 C881.6 403.6 880.0 404.0 880.0 404.0 C880.0 404.0 880.3 402.6 880.3 402.6 C880.4 402.6 880.3 414.2 880.4 420.0 C880.5 430.0 880.9 440.2 881.5 450.0 C882.5 467.0 888.1 483.7 895.0 500.0"/>
<path class="lr" d="M883.0 385.0 C882.6 390.9 882.5 396.7 882.5 402.6 C882.5 408.4 883.0 414.2 883.3 420.0 C883.8 430.0 884.0 440.3 885.0 450.0 C886.0 460.3 890.8 470.3 896.0 480.0"/>
</g>
<g id="bottomfam">
<path class="lb" d="M640.6 905.0 C638.8 912.3 637.2 919.6 635.6 927.0 C633.3 937.9 631.2 949.0 629.4 960.0 C627.8 970.0 626.4 980.0 625.2 990.0 C624.0 1000.0 623.0 1010.0 622.3 1020.0 C621.6 1030.0 621.1 1040.0 620.8 1050.0 C620.5 1060.0 620.4 1070.0 620.6 1080.0 C620.8 1090.0 621.2 1100.0 621.8 1110.0 C622.3 1118.7 623.0 1127.3 623.9 1136.0 C624.4 1140.7 624.9 1145.3 625.5 1150.0"/>
<path class="lb" d="M663.3 905.0 C661.8 912.3 660.3 919.6 658.9 927.0 C656.9 938.0 655.1 949.0 653.5 960.0 C652.1 970.0 650.9 980.0 650.0 990.0 C649.0 1000.0 648.2 1010.0 647.7 1020.0 C647.2 1030.0 646.8 1040.0 646.7 1050.0 C646.6 1060.0 646.7 1070.0 647.0 1080.0 C647.3 1090.0 647.8 1100.0 648.5 1110.0 C649.2 1118.7 650.0 1127.3 650.9 1136.0 C651.4 1140.7 652.0 1145.3 652.6 1150.0"/>
<path class="lb" d="M685.6 905.0 C684.3 912.3 683.2 919.7 682.1 927.0 C680.5 938.0 679.1 949.0 678.0 960.0 C676.9 970.0 676.0 980.0 675.3 990.0 C674.6 1000.0 674.1 1010.0 673.8 1020.0 C673.5 1030.0 673.3 1040.0 673.3 1050.0 C673.4 1060.0 673.6 1070.0 674.0 1080.0 C674.3 1090.0 674.9 1100.0 675.7 1110.0 C676.3 1118.7 677.1 1127.3 678.0 1136.0 C678.5 1140.7 679.0 1145.3 679.6 1150.0"/>
<path class="lb" d="M706.4 905.0 C705.7 912.3 705.0 919.7 704.4 927.0 C703.5 938.0 702.7 949.0 702.1 960.0 C701.5 970.0 701.1 980.0 700.8 990.0 C700.5 1000.0 700.3 1010.0 700.2 1020.0 C700.1 1030.0 700.2 1040.0 700.4 1050.0 C700.6 1060.0 700.9 1070.0 701.3 1080.0 C701.7 1090.0 702.3 1100.0 703.0 1110.0 C703.5 1118.7 704.2 1127.3 705.0 1136.0 C705.4 1140.7 705.9 1145.3 706.3 1150.0"/>
<path class="lb" d="M728.9 905.0 C728.3 912.3 727.8 919.7 727.3 927.0 C726.6 938.0 726.1 949.0 725.7 960.0 C725.3 970.0 725.1 980.0 725.0 990.0 C724.9 1000.0 724.9 1010.0 725.0 1020.0 C725.1 1030.0 725.4 1040.0 725.8 1050.0 C726.1 1060.0 726.6 1070.0 727.3 1080.0 C727.9 1090.0 728.6 1100.0 729.5 1110.0 C730.2 1118.7 731.1 1127.3 732.0 1136.0 C732.5 1140.7 733.0 1145.3 733.6 1150.0"/>
<path class="lb" d="M750.2 905.0 C749.9 912.3 749.7 919.7 749.5 927.0 C749.2 938.0 749.1 949.0 749.1 960.0 C749.1 970.0 749.2 980.0 749.4 990.0 C749.5 1000.0 749.8 1010.0 750.2 1020.0 C750.6 1030.0 751.1 1040.0 751.6 1050.0 C752.2 1060.0 752.9 1070.0 753.7 1080.0 C754.4 1090.0 755.3 1100.0 756.3 1110.0 C757.1 1118.7 758.0 1127.3 759.0 1136.0 C759.5 1140.7 760.1 1145.3 760.7 1150.0"/>
<path class="lb" d="M772.1 905.0 C772.2 912.3 772.3 919.7 772.4 927.0 C772.6 938.0 772.9 949.0 773.2 960.0 C773.6 970.0 773.9 980.0 774.4 990.0 C774.9 1000.0 775.4 1010.0 776.0 1020.0 C776.6 1030.0 777.3 1040.0 778.0 1050.0 C778.7 1060.0 779.5 1070.0 780.4 1080.0 C781.3 1090.0 782.2 1100.0 783.2 1110.0 C784.1 1118.7 785.0 1127.3 786.0 1136.0 C786.5 1140.7 787.1 1145.3 787.6 1150.0"/>
<path class="lb" d="M793.3 905.0 C793.7 912.3 794.2 919.7 794.7 927.0 C795.4 938.0 796.2 949.0 797.1 960.0 C797.8 970.0 798.6 980.0 799.4 990.0 C800.3 1000.0 801.1 1010.0 802.0 1020.0 C802.9 1030.0 803.8 1040.0 804.8 1050.0 C805.7 1060.0 806.7 1070.0 807.7 1080.0 C808.8 1090.0 809.8 1100.0 810.9 1110.0 C811.8 1118.7 812.8 1127.3 813.8 1136.0 C814.3 1140.7 814.9 1145.3 815.4 1150.0"/>
<path class="lb" d="M815.4 905.0 C816.0 912.3 816.7 919.7 817.3 927.0 C818.3 938.0 819.3 949.0 820.3 960.0 C821.3 970.0 822.3 980.0 823.3 990.0 C824.3 1000.0 825.4 1010.0 826.5 1020.0 C827.6 1030.0 828.7 1040.0 829.9 1050.0 C831.1 1060.0 832.3 1070.0 833.5 1080.0 C834.7 1090.0 836.0 1100.0 837.3 1110.0 C838.5 1118.7 839.6 1127.3 840.8 1136.0 C841.4 1140.7 842.1 1145.3 842.7 1150.0"/>
</g>
</g>
</svg>
<div id="details"></div>
<div id="card"></div>
<div id="panel"></div>
<div id="lbar"></div>
<div id="rbar"></div>
<svg id="grid" width="880" height="1140" viewBox="0 0 880 1140"><rect x="73.9" y="534.35" width="718" height="300.6" fill="#fff" stroke="#1a4473" stroke-width="1.85"/><line x1="120.0" y1="581" x2="120.0" y2="767" stroke="#d2d2d2" stroke-width="1"/><line x1="249.0" y1="581" x2="249.0" y2="767" stroke="#d2d2d2" stroke-width="1"/><line x1="378.0" y1="581" x2="378.0" y2="767" stroke="#d2d2d2" stroke-width="1"/><line x1="507.0" y1="581" x2="507.0" y2="767" stroke="#d2d2d2" stroke-width="1"/><line x1="636.0" y1="581" x2="636.0" y2="767" stroke="#d2d2d2" stroke-width="1"/><line x1="765.0" y1="581" x2="765.0" y2="767" stroke="#d2d2d2" stroke-width="1"/></svg>
<div class="bar bp" style="top:585.2px;width:181.1px"></div>
<div class="bar bm" style="top:603.4px;width:516.5px"></div>
<div class="bar bd" style="top:621.5px;width:232.7px"></div>
<div class="bar bp" style="top:646.9px;width:516.5px"></div>
<div class="bar bm" style="top:665.0px;width:464.9px"></div>
<div class="bar bd" style="top:683.2px;width:516.5px"></div>
<div class="bar bp" style="top:708.4px;width:516.5px"></div>
<div class="bar bm" style="top:726.5px;width:258.5px"></div>
<div class="bar bd" style="top:744.7px;width:464.9px"></div>
<svg id="leg" width="880" height="1140" viewBox="0 0 880 1140"><rect x="216.6" y="810.6" width="6.9" height="7.4" fill="#a3afdc"/><rect x="379.4" y="810.6" width="6.9" height="7.4" fill="#3b68c6"/><rect x="537.7" y="810.6" width="6.9" height="7.4" fill="#2f51a1"/></svg>
<svg id="fg" width="880" height="1140" viewBox="0 0 880 1140">
<path d="M621.8 221.5 C628.6 228.7 635.9 235.6 644.0 241.4 C649.7 245.5 655.8 249.0 662.3 251.8 C670.6 255.3 679.5 257.6 688.4 257.6 C697.2 257.6 706.0 255.5 714.5 253.1 C722.2 250.9 729.7 248.6 738.0 249.2 C742.9 249.6 748.1 250.9 751.0 254.4 C753.2 257.0 754.1 260.9 756.4 263.6 C758.9 266.5 762.9 268.0 766.8 268.3 C773.2 268.8 779.0 266.0 785.0 263.6 C791.0 261.2 797.3 259.1 803.4 259.7 C808.0 260.2 812.5 262.2 816.5 264.9 C820.0 267.3 823.2 270.4 825.6 273.5 L825.6 221.5 L621.8 221.5 Z" fill="#fff" stroke="none"/>
<path d="M621.8 221.5 C628.6 228.7 635.9 235.6 644.0 241.4 C649.7 245.5 655.8 249.0 662.3 251.8 C670.6 255.3 679.5 257.6 688.4 257.6 C697.2 257.6 706.0 255.5 714.5 253.1 C722.2 250.9 729.7 248.6 738.0 249.2 C742.9 249.6 748.1 250.9 751.0 254.4 C753.2 257.0 754.1 260.9 756.4 263.6 C758.9 266.5 762.9 268.0 766.8 268.3 C773.2 268.8 779.0 266.0 785.0 263.6 C791.0 261.2 797.3 259.1 803.4 259.7 C808.0 260.2 812.5 262.2 816.5 264.9 C820.0 267.3 823.2 270.4 825.6 273.5" fill="none" stroke="#2d5cb4" stroke-width="1.7"/>
<path d="M621.8 221.5 L825.5 221.5 L825.5 273.5" fill="none" stroke="#2d5cb4" stroke-width="0.9"/>
<path d="M57.5 860.1 C63.6 860.6 70.6 860.3 77.4 861.2 C82.0 861.8 86.4 862.9 90.3 865.1 C93.2 866.7 95.8 869.0 97.9 871.6 C100.7 875.0 102.7 879.0 105.5 882.4 C108.9 886.5 113.4 889.7 118.4 892.1 C123.9 894.7 129.8 896.2 135.7 896.2 C141.5 896.2 147.3 894.6 153.0 892.7 C157.6 891.2 162.3 889.5 167.0 889.5 C171.1 889.5 175.3 890.9 178.9 893.2 C182.7 895.7 185.8 899.3 189.6 901.4 C194.0 903.9 199.5 904.3 204.8 905.7 C208.4 906.6 212.0 908.0 214.5 910.4 C216.5 912.3 217.9 914.8 218.1 918.2 L57.5 918.2 L57.5 860.1 Z" fill="#fff" stroke="none"/>
<path d="M57.5 860.1 C63.6 860.6 70.6 860.3 77.4 861.2 C82.0 861.8 86.4 862.9 90.3 865.1 C93.2 866.7 95.8 869.0 97.9 871.6 C100.7 875.0 102.7 879.0 105.5 882.4 C108.9 886.5 113.4 889.7 118.4 892.1 C123.9 894.7 129.8 896.2 135.7 896.2 C141.5 896.2 147.3 894.6 153.0 892.7 C157.6 891.2 162.3 889.5 167.0 889.5 C171.1 889.5 175.3 890.9 178.9 893.2 C182.7 895.7 185.8 899.3 189.6 901.4 C194.0 903.9 199.5 904.3 204.8 905.7 C208.4 906.6 212.0 908.0 214.5 910.4 C216.5 912.3 217.9 914.8 218.1 918.2" fill="none" stroke="#2d5cb4" stroke-width="1.7"/>
<path d="M218.1 918.2 L57.6 918.2 L57.6 860.1" fill="none" stroke="#2d5cb4" stroke-width="0.9"/>
<rect x="231" y="395.5" width="421" height="109" fill="#fff"/>
<rect x="231" y="395.5" width="421" height="45.5" fill="#2e75b6"/>
<rect x="231" y="441" width="152.25" height="63.5" fill="#9dc3e6"/>
<line x1="231" y1="441" x2="652" y2="441" stroke="#2e75b6" stroke-width="1.5"/>
<line x1="231" y1="462" x2="652" y2="462" stroke="#2e75b6" stroke-width="1.5"/>
<line x1="231" y1="483" x2="652" y2="483" stroke="#2e75b6" stroke-width="1.5"/>
<line x1="231" y1="504.5" x2="652" y2="504.5" stroke="#2e75b6" stroke-width="1.5"/>
<line x1="231" y1="395.5" x2="231" y2="504.5" stroke="#2e75b6" stroke-width="1.5"/>
<line x1="383.25" y1="395.5" x2="383.25" y2="504.5" stroke="#2e75b6" stroke-width="1.5"/>
<line x1="475.5" y1="395.5" x2="475.5" y2="504.5" stroke="#2e75b6" stroke-width="1.5"/>
<line x1="567.5" y1="395.5" x2="567.5" y2="504.5" stroke="#2e75b6" stroke-width="1.5"/>
<line x1="652" y1="395.5" x2="652" y2="504.5" stroke="#2e75b6" stroke-width="1.5"/>
<rect x="231" y="395.5" width="421" height="109" fill="none" stroke="#2e75b6" stroke-width="1.6"/>
<path d="M428 291.2 L525.3 291.2 L525.3 272" fill="none" stroke="#1460a8" stroke-width="2.8" stroke-linejoin="miter"/>
<circle cx="428" cy="291.2" r="4" fill="#1460a8"/>
<circle cx="525.3" cy="272" r="4" fill="#1460a8"/>
<path d="M634 458 L735 458" stroke="#1460a8" stroke-width="2.8"/>
<circle cx="634" cy="458" r="4" fill="#1460a8"/>
<circle cx="735" cy="458" r="4" fill="#1460a8"/>
<path d="M607.8 573 L711.7 573" stroke="#1460a8" stroke-width="2.8"/>
<circle cx="607.8" cy="573" r="4" fill="#1460a8"/>
<circle cx="711.7" cy="573" r="4" fill="#1460a8"/>
</svg>
<span class="t" id="tdetails" style="left:90.40px;top:108.20px;font-size:28px;font-weight:700;color:#fff;transform:scaleX(1.0195);letter-spacing:0.30px;">DETAILS</span>
<span class="t" id="title" style="left:119.51px;top:266.08px;font-size:24.6px;font-weight:700;color:#153d71;transform:scaleX(0.8660);">Free Cool Bar Chart Template</span>
<span class="t" id="subtitle" style="left:117.33px;top:298.65px;font-size:14px;font-weight:400;color:#7f7f7f;transform:scaleX(0.8831);">Second Quarter Department Productivity</span>
<span class="t" id="ct" style="left:495.36px;top:251.86px;font-size:16px;font-weight:400;color:#333;transform:scaleX(1.0188);">Chart Title</span>
<span class="t" id="dt" style="left:741.69px;top:449.66px;font-size:16px;font-weight:400;color:#333;transform:scaleX(0.9927);">Data Table</span>
<span class="t" id="ch" style="left:719.87px;top:563.66px;font-size:16px;font-weight:400;color:#333;transform:scaleX(1.0116);">Chart</span>
<span class="t" id="ctitle" style="left:297.22px;top:547.68px;font-size:15.5px;font-weight:700;color:#404040;transform:scaleX(0.8990);">Second Quarter Department Productivity</span>
<span class="t" id="h0" style="left:289.99px;top:411.65px;font-size:14px;font-weight:400;color:#fff;transform:scaleX(0.9000);">Month</span>
<span class="t" id="h1a" style="left:409.88px;top:401.35px;font-size:14px;font-weight:400;color:#fff;transform:scaleX(0.9000);">Design</span>
<span class="t" id="h1b" style="left:396.94px;top:421.95px;font-size:14px;font-weight:400;color:#fff;transform:scaleX(0.9000);">Productivity</span>
<span class="t" id="h2a" style="left:493.84px;top:401.35px;font-size:14px;font-weight:400;color:#fff;transform:scaleX(0.9000);">Marketing</span>
<span class="t" id="h2b" style="left:488.94px;top:421.95px;font-size:14px;font-weight:400;color:#fff;transform:scaleX(0.9000);">Productivity</span>
<span class="t" id="h3a" style="left:579.63px;top:401.35px;font-size:14px;font-weight:400;color:#fff;transform:scaleX(0.9000);">Production</span>
<span class="t" id="h3b" style="left:577.19px;top:421.95px;font-size:14px;font-weight:400;color:#fff;transform:scaleX(0.9000);">Productivity</span>
<span class="t" id="r0c0" style="left:294.89px;top:444.95px;font-size:14px;font-weight:400;color:#111;transform:scaleX(0.9000);">April</span>
<span class="t" id="r0c1" style="left:418.69px;top:445.37px;font-size:13.5px;font-weight:400;color:#111;transform:scaleX(0.8000);">98%</span>
<span class="t" id="r0c2" style="left:510.69px;top:445.37px;font-size:13.5px;font-weight:400;color:#111;transform:scaleX(0.8000);">90%</span>
<span class="t" id="r0c3" style="left:595.94px;top:445.37px;font-size:13.5px;font-weight:400;color:#111;transform:scaleX(0.8000);">100%</span>
<span class="t" id="r1c0" style="left:295.60px;top:465.95px;font-size:14px;font-weight:400;color:#111;transform:scaleX(0.9000);">May</span>
<span class="t" id="r1c1" style="left:415.69px;top:466.37px;font-size:13.5px;font-weight:400;color:#111;transform:scaleX(0.8000);">100%</span>
<span class="t" id="r1c2" style="left:510.69px;top:466.37px;font-size:13.5px;font-weight:400;color:#111;transform:scaleX(0.8000);">98%</span>
<span class="t" id="r1c3" style="left:595.94px;top:466.37px;font-size:13.5px;font-weight:400;color:#111;transform:scaleX(0.8000);">100%</span>
<span class="t" id="r2c0" style="left:293.84px;top:486.95px;font-size:14px;font-weight:400;color:#111;transform:scaleX(0.9000);">June</span>
<span class="t" id="r2c1" style="left:418.69px;top:487.37px;font-size:13.5px;font-weight:400;color:#111;transform:scaleX(0.8000);">89%</span>
<span class="t" id="r2c2" style="left:507.69px;top:487.37px;font-size:13.5px;font-weight:400;color:#111;transform:scaleX(0.8000);">100%</span>
<span class="t" id="r2c3" style="left:598.94px;top:487.37px;font-size:13.5px;font-weight:400;color:#111;transform:scaleX(0.8000);">87%</span>
<span class="t" id="catJune" style="left:80.91px;top:605.15px;font-size:14px;font-weight:400;color:#404040;transform:scaleX(0.9000);">June</span>
<span class="t" id="catMay" style="left:84.42px;top:665.55px;font-size:14px;font-weight:400;color:#404040;transform:scaleX(0.9000);">May</span>
<span class="t" id="catApril" style="left:83.02px;top:728.15px;font-size:14px;font-weight:400;color:#404040;transform:scaleX(0.9000);">April</span>
<span class="t" id="ax0" style="left:108.14px;top:778.77px;font-size:13.5px;font-weight:400;color:#404040;transform:scaleX(0.9000);">80%</span>
<span class="t" id="ax1" style="left:237.14px;top:778.77px;font-size:13.5px;font-weight:400;color:#404040;transform:scaleX(0.9000);">85%</span>
<span class="t" id="ax2" style="left:366.14px;top:778.77px;font-size:13.5px;font-weight:400;color:#404040;transform:scaleX(0.9000);">90%</span>
<span class="t" id="ax3" style="left:495.14px;top:778.77px;font-size:13.5px;font-weight:400;color:#404040;transform:scaleX(0.9000);">95%</span>
<span class="t" id="ax4" style="left:620.76px;top:778.77px;font-size:13.5px;font-weight:400;color:#404040;transform:scaleX(0.9000);">100%</span>
<span class="t" id="ax5" style="left:749.76px;top:778.77px;font-size:13.5px;font-weight:400;color:#404040;transform:scaleX(0.9000);">105%</span>
<span class="t" id="lg0" style="left:226.12px;top:807.05px;font-size:14px;font-weight:400;color:#404040;transform:scaleX(0.9022);">Production Productivity</span>
<span class="t" id="lg1" style="left:389.11px;top:807.05px;font-size:14px;font-weight:400;color:#404040;transform:scaleX(0.9047);">Marketing Productivity</span>
<span class="t" id="lg2" style="left:547.53px;top:807.05px;font-size:14px;font-weight:400;color:#404040;transform:scaleX(0.8877);">Design Productivity</span>
</body>
</html>
